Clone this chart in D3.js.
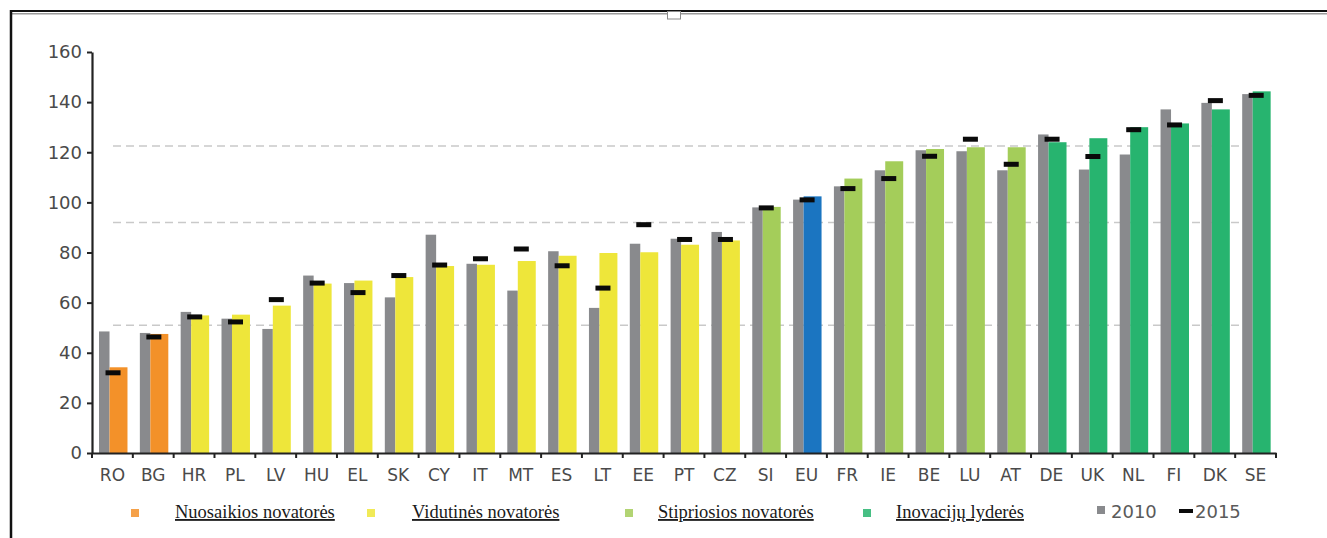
<!DOCTYPE html>
<html>
<head>
<meta charset="utf-8">
<script src="https://cdn.jsdelivr.net/npm/d3@7"></script>
<style>
  html, body { margin: 0; padding: 0; background: #fff; }
  svg { display: block; }
</style>
</head>
<body>
<svg id="chart" width="1327" height="538"></svg>
<script>
// ---- Data ----
const categories = ["RO","BG","HR","PL","LV","HU","EL","SK","CY","IT","MT","ES","LT","EE","PT","CZ","SI","EU","FR","IE","BE","LU","AT","DE","UK","NL","FI","DK","SE"];
const values2010 = [48.5,47.9,56.3,53.6,49.5,70.8,67.8,62.1,87.1,75.5,64.8,80.5,57.9,83.5,85.5,88.2,98.0,101.1,106.4,112.8,120.8,120.4,112.8,127.1,113.1,119.1,137.1,139.7,143.2];
const valuesLatest = [34.2,47.5,54.9,55.2,58.8,67.6,68.8,70.2,74.6,75.1,76.6,78.7,79.8,80.1,83.1,84.8,98.2,102.4,109.5,116.4,121.3,122.0,122.0,124.0,125.6,130.0,131.5,137.1,144.3];
const values2015 = [32.0,46.3,54.3,52.3,61.2,67.8,64.0,70.8,75.0,77.5,81.4,74.7,65.8,91.1,85.2,85.2,97.8,101.0,105.5,109.5,118.4,125.2,115.2,125.2,118.3,129.0,130.9,140.6,142.7];
const groups = ["mod","mod","mid","mid","mid","mid","mid","mid","mid","mid","mid","mid","mid","mid","mid","mid","str","eu","str","str","str","str","str","lead","lead","lead","lead","lead","lead"];
const yTicks = [0,20,40,60,80,100,120,140,160];
const thresholds = [51, 92, 122.5];
const legendGroups = ["mod","mid","str","lead"];
const legendLabels = ["Nuosaikios novatorės","Vidutinės novatorės","Stipriosios novatorės","Inovacijų lyderės"];
const seriesLabels = ["2010","2015"];

// ---- Styles ----
const colors = { mod: "#f39129", mid: "#eee63a", str: "#a4cd5a", lead: "#27b46f", eu: "#1b75c1" };
const grayColor = "#898a8d";
const markerColor = "#0a0a0a";

const svg = d3.select("#chart");

// frame
svg.append("line").attr("x1", 10).attr("x2", 1327).attr("y1", 11).attr("y2", 11).attr("stroke", "#111").attr("stroke-width", 2);
svg.append("line").attr("x1", 12).attr("x2", 1327).attr("y1", 13.8).attr("y2", 13.8).attr("stroke", "#9a9a9a").attr("stroke-width", 1.4);
svg.append("line").attr("x1", 11).attr("x2", 11).attr("y1", 10).attr("y2", 538).attr("stroke", "#111").attr("stroke-width", 2.5);
svg.append("rect").attr("x", 667.5).attr("y", 11.5).attr("width", 13).attr("height", 7.5).attr("fill", "#fff").attr("stroke", "#8a8a8a").attr("stroke-width", 1);

// scales
const x = d3.scaleBand().domain(categories).range([92, 1276]).paddingInner(0).paddingOuter(0);
const y = d3.scaleLinear().domain([0, 160]).range([453, 52]);
const bw = x.bandwidth();

// threshold dashed lines
svg.append("g").selectAll("line").data(thresholds).join("line")
  .attr("x1", 113).attr("x2", 1248)
  .attr("y1", d => y(d)).attr("y2", d => y(d))
  .attr("stroke", "#c9c9c9").attr("stroke-width", 1.5).attr("stroke-dasharray", "8,5");

// bars 2010
svg.append("g").selectAll("rect").data(categories).join("rect")
  .attr("x", d => x(d) + bw * 0.172)
  .attr("width", bw * 0.257)
  .attr("y", (d, i) => y(values2010[i]))
  .attr("height", (d, i) => y(0) - y(values2010[i]))
  .attr("fill", grayColor);

// bars latest
svg.append("g").selectAll("rect").data(categories).join("rect")
  .attr("x", d => x(d) + bw * 0.429)
  .attr("width", bw * 0.44)
  .attr("y", (d, i) => y(valuesLatest[i]))
  .attr("height", (d, i) => y(0) - y(valuesLatest[i]))
  .attr("fill", (d, i) => colors[groups[i]]);

// 2015 markers
svg.append("g").selectAll("rect").data(categories).join("rect")
  .attr("x", d => x(d) + bw * 0.515 - 7.5)
  .attr("width", 15)
  .attr("y", (d, i) => y(values2015[i]) - 2.5)
  .attr("height", 5)
  .attr("fill", markerColor);

// y axis
const yAxis = svg.append("g").attr("transform", "translate(92,0)")
  .call(d3.axisLeft(y).tickValues(yTicks).tickSize(5).tickPadding(5).tickSizeOuter(0));
yAxis.select(".domain").attr("stroke", "#222").attr("stroke-width", 2.2);
yAxis.selectAll(".tick line").attr("stroke", "#222").attr("stroke-width", 2);
yAxis.selectAll(".tick text").attr("font-family", "DejaVu Sans").attr("font-size", 18).attr("fill", "#4a4a4a");

// x axis
const xAxis = svg.append("g").attr("transform", "translate(0,453)")
  .call(d3.axisBottom(x).tickSize(0).tickPadding(16).tickSizeOuter(0));
xAxis.select(".domain").attr("stroke", "#222").attr("stroke-width", 2.2);
xAxis.selectAll(".tick text").attr("font-family", "DejaVu Sans").attr("font-size", 17).attr("fill", "#4a4a4a");
// boundary ticks
const bounds = categories.map(c => x(c)).concat([x.range()[1]]);
xAxis.append("g").selectAll("line").data(bounds).join("line")
  .attr("x1", d => d).attr("x2", d => d).attr("y1", 0).attr("y2", 5)
  .attr("stroke", "#222").attr("stroke-width", 2);

// legend
const legSquareX = [135, 371, 629, 867];
const legTextX = [175, 412, 658, 896];
const leg = svg.append("g");
legendGroups.forEach((g, i) => {
  leg.append("rect").attr("x", legSquareX[i] - 4).attr("y", 509).attr("width", 8).attr("height", 8)
    .attr("fill", colors[g]).attr("opacity", 0.85);
  leg.append("text").attr("x", legTextX[i]).attr("y", 518)
    .attr("font-family", "Liberation Serif").attr("font-size", 18.5)
    .attr("text-decoration", "underline").attr("fill", "#1a1a1a")
    .text(legendLabels[i]);
});
leg.append("rect").attr("x", 1097).attr("y", 506).attr("width", 8).attr("height", 8).attr("fill", grayColor);
leg.append("text").attr("x", 1111).attr("y", 518).attr("font-family", "DejaVu Sans").attr("font-size", 18).attr("fill", "#5a5a5a").text(seriesLabels[0]);
leg.append("rect").attr("x", 1179).attr("y", 509).attr("width", 14).attr("height", 4).attr("fill", markerColor);
leg.append("text").attr("x", 1195).attr("y", 518).attr("font-family", "DejaVu Sans").attr("font-size", 18).attr("fill", "#5a5a5a").text(seriesLabels[1]);
</script>
</body>
</html>
